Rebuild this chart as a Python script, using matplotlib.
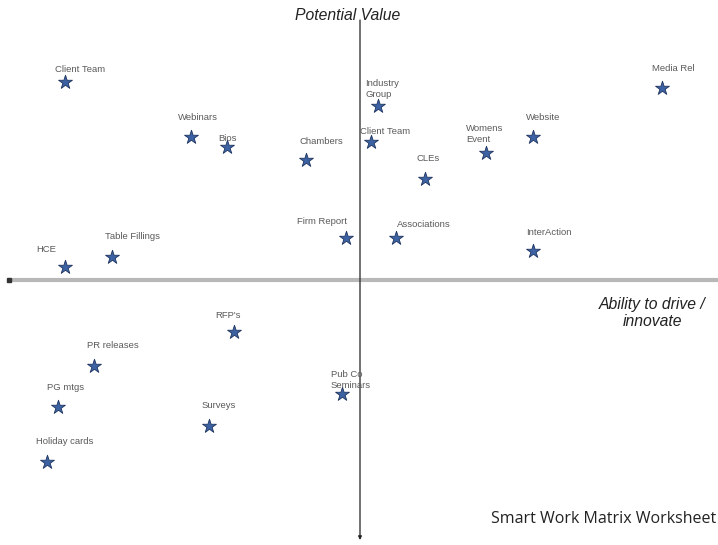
import numpy as np
import matplotlib.pyplot as plt

# activities placed on the matrix: x = ability to drive / innovate, y = potential value
names = ["Client Team", "Webinars", "Bios", "Chambers", "Firm Report",
         "Table Fillings", "HCE", "Industry\nGroup", "Client Team", "CLEs",
         "Womens\nEvent", "Website", "Media Rel", "Associations", "InterAction",
         "RFP's", "PR releases", "PG mtgs", "Surveys", "Pub Co\nSeminars",
         "Holiday cards"]
drive = [-8.2, -4.7, -3.7, -1.5, -0.4,
         -6.9, -8.2, 0.5, 0.3, 1.8,
         3.5, 4.8, 8.4, 1.0, 4.8,
         -3.5, -7.4, -8.4, -4.2, -0.5,
         -8.7]
value = [7.6, 5.5, 5.1, 4.6, 1.6,
         0.9, 0.5, 6.7, 5.3, 3.9,
         4.9, 5.5, 7.4, 1.6, 1.1,
         -2.0, -3.3, -4.9, -5.6, -4.4,
         -7.0]

# label offsets (pixels) from each star
offsets = [(-10, 13), (-13, 20), (-9, 9), (-7, 19), (-49, 17),
           (-7, 20), (-29, 18), (-13, 17), (-11, 11), (-8, 20),
           (-20, 19), (-7, 20), (-10, 19), (1, 14), (-7, 19),
           (-19, 17), (-7, 20), (-11, 20), (-7, 20), (-11, 14),
           (-11, 20)]

fig = plt.figure(figsize=(7.18, 5.45), dpi=100)
ax = fig.add_axes([0, 0, 1, 1])
ax.set_xlim(-10, 358 / 36)
ax.set_ylim(-265 / 26, 280 / 26)
ax.axis('off')

# horizontal axis (grey, dark end on the left)
ax.plot([-352 / 36, 358 / 36], [0, 0], color="#b8b8b8", lw=3, solid_capstyle='butt')
ax.plot([-351 / 36], [0], marker='s', ms=2.5, color="#333333")
# vertical axis (black, arrow pointing down)
ax.annotate("", xy=(0, -260 / 26), xytext=(0, 260 / 26),
            arrowprops=dict(arrowstyle="-|>", color="#222222", lw=0.9,
                            mutation_scale=5, shrinkA=0, shrinkB=0))

ax.scatter(drive, value, marker='*', s=110, color="#3d62a3",
           edgecolors="#1f3560", linewidths=0.6, zorder=3)

for name, x, y, (dx, dy) in zip(names, drive, value, offsets):
    ax.annotate(name, xy=(x, y), xytext=(dx, dy), textcoords='offset pixels',
                ha='left', va='center', fontsize=6.8, color="#5a5a5a",
                family="Liberation Sans", linespacing=1.3)

ax.text(-12 / 36, 265 / 26, "Potential Value", ha='center', va='center',
        fontsize=11.3, style='italic', color="#222222", family="Liberation Sans")
ax.text(292 / 36, -33 / 26, "Ability to drive /\ninnovate", ha='center',
        va='center', fontsize=11.3, style='italic', color="#222222",
        family="Liberation Sans", linespacing=1.2)
ax.text(356 / 36, -239 / 26, "Smart Work Matrix Worksheet", ha='right',
        va='center', fontsize=11.5, color="#222222", family="Open Sans")

fig.savefig("out.png", dpi=100)
